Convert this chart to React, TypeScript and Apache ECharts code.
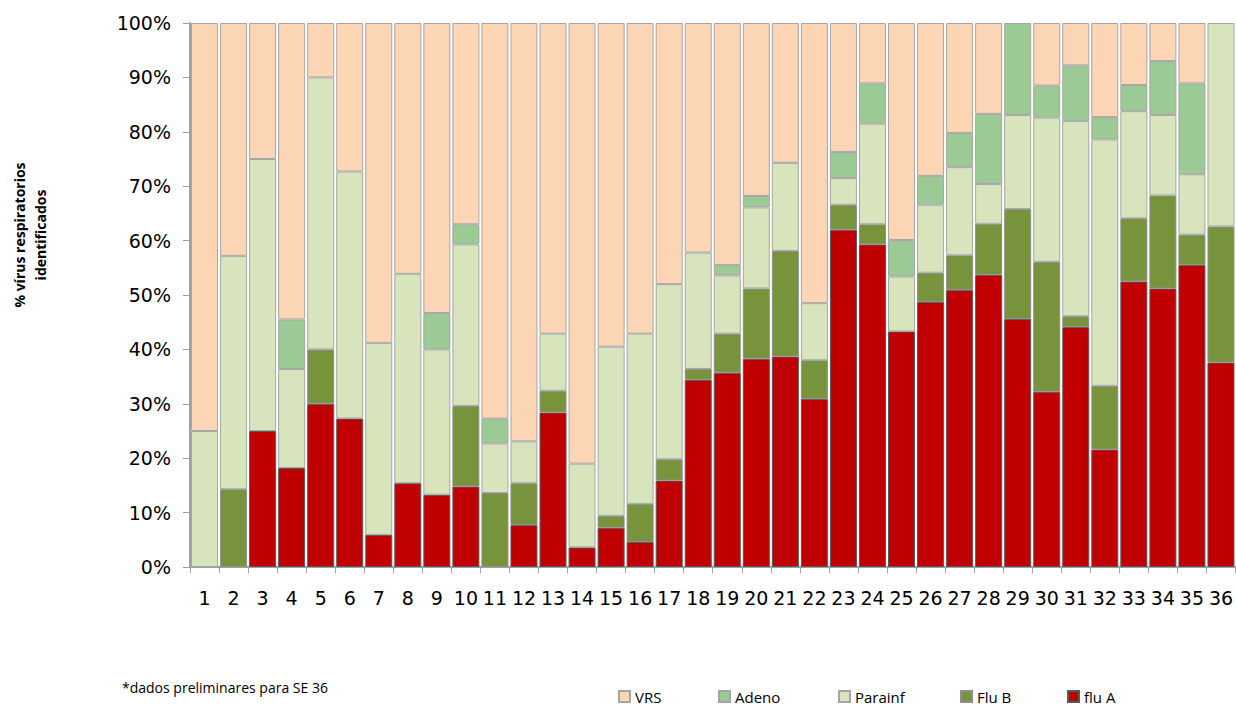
import React, { useEffect, useRef } from "react";
import * as echarts from "echarts";

const weeks = [
  "1", "2", "3", "4", "5", "6", "7", "8", "9", "10", "11", "12",
  "13", "14", "15", "16", "17", "18", "19", "20", "21", "22", "23", "24",
  "25", "26", "27", "28", "29", "30", "31", "32", "33", "34", "35", "36",
];

// percentage share of each virus per epidemiological week (segments, sum ~100)
const fluA = [
  0, 0, 25, 18.2, 30, 27.3, 5.9, 15.4, 13.3, 14.8, 0, 7.7,
  28.4, 3.6, 7.2, 4.6, 15.9, 34.4, 35.7, 38.3, 38.7, 30.9, 62.0, 59.3,
  43.3, 48.7, 50.9, 53.7, 45.6, 32.2, 44.1, 21.6, 52.5, 51.2, 55.5, 37.6,
];
const fluB = [
  0, 14.3, 0, 0, 10, 0, 0, 0, 0, 14.8, 13.6, 7.7,
  4.0, 0, 2.2, 7.0, 3.9, 2.0, 7.2, 12.9, 19.4, 7.1, 4.6, 3.7,
  0, 5.4, 6.4, 9.4, 20.2, 23.9, 2.0, 11.7, 11.6, 17.1, 5.6, 25.0,
];
const parainf = [
  25, 42.9, 50, 18.2, 50, 45.4, 35.3, 38.5, 26.7, 29.7, 9.1, 7.7,
  10.5, 15.4, 31.1, 31.3, 32.2, 21.4, 10.7, 14.9, 16.2, 10.5, 4.9, 18.5,
  10.1, 12.5, 16.2, 7.3, 17.3, 26.5, 35.9, 45.3, 19.7, 14.8, 11.1, 37.4,
];
const adeno = [
  0, 0, 0, 9.1, 0, 0, 0, 0, 6.7, 3.7, 4.6, 0,
  0, 0, 0, 0, 0, 0, 1.9, 2.1, 0, 0, 4.8, 7.4,
  6.7, 5.3, 6.3, 12.9, 16.9, 5.9, 10.2, 4.1, 4.8, 9.9, 16.7, 0,
];
const vrs = [
  75, 42.8, 25, 54.5, 10, 27.3, 58.8, 46.1, 53.3, 37.0, 72.7, 76.9,
  57.1, 81.0, 59.5, 57.1, 48.0, 42.2, 44.5, 31.8, 25.7, 51.5, 23.7, 11.1,
  39.9, 28.1, 20.2, 16.7, 0, 11.5, 7.8, 17.3, 11.4, 7.0, 11.1, 0,
];

const seriesNames = ["flu A", "Flu B", "Parainf", "Adeno", "VRS"];
const seriesValues = [fluA, fluB, parainf, adeno, vrs];
const seriesColors = ["#C00000", "#77933C", "#D8E4BC", "#9BCA94", "#FCD5B5"];
const seriesBorders = ["#5a5a5a", "#8f8f8f", "#a6a6a6", "#a6a6a6", "#a6a6a6"];

const legendOrder = ["VRS", "Adeno", "Parainf", "Flu B", "flu A"];
const legendLeft = [618, 718, 838, 960, 1067];

const yTitle = "% vírus respiratorios\nidentificados";
const footnote = "*dados preliminares para SE 36";

export default function App() {
  const ref = useRef<HTMLDivElement>(null);

  useEffect(() => {
    if (!ref.current) return;
    const chart = echarts.init(ref.current, null, { renderer: "svg" });
    const option = {
      animation: false,
      backgroundColor: "#ffffff",
      grid: { left: 190, top: 23, width: 1050, height: 544, containLabel: false },
      xAxis: {
        type: "category",
        data: weeks,
        axisLine: { show: true, lineStyle: { color: "#a0a0a0", width: 2 } },
        axisTick: {
          show: true,
          interval: 0,
          alignWithLabel: false,
          length: 6,
          lineStyle: { color: "#a0a0a0", width: 1 },
        },
        axisLabel: {
          interval: 0,
          margin: 21,
          fontSize: 19,
          fontFamily: "DejaVu Sans",
          color: "#000",
        },
        splitLine: { show: false },
      },
      yAxis: {
        type: "value",
        min: 0,
        max: 100,
        interval: 10,
        axisLine: { show: true, lineStyle: { color: "#a0a0a0", width: 2 } },
        axisTick: { show: true, length: 7, lineStyle: { color: "#a0a0a0", width: 1 } },
        axisLabel: {
          formatter: "{value}%",
          margin: 19,
          fontSize: 19,
          fontFamily: "DejaVu Sans",
          color: "#000",
        },
        splitLine: { show: false },
      },
      legend: legendOrder.map((name, i) => ({
        data: [name],
        left: legendLeft[i],
        top: 689,
        itemWidth: 11,
        itemHeight: 11,
        itemGap: 0,
        padding: 0,
        icon: "rect",
        selectedMode: false,
        textStyle: { fontSize: 15, fontFamily: "Open Sans", color: "#000" },
      })),
      graphic: [
        {
          type: "text",
          x: 30,
          y: 235,
          rotation: Math.PI / 2,
          style: {
            text: yTitle,
            font: "bold 14px 'Open Sans'",
            fill: "#000",
            textAlign: "center",
            textVerticalAlign: "middle",
            lineHeight: 21,
          },
        },
        {
          type: "text",
          x: 122,
          y: 687,
          style: {
            text: footnote,
            font: "14px 'Open Sans'",
            fill: "#000",
            textAlign: "left",
            textVerticalAlign: "middle",
          },
        },
      ],
      series: seriesNames.map((name, i) => ({
        name,
        type: "bar",
        stack: "total",
        barCategoryGap: "7%",
        data: seriesValues[i].map((v) => (v === 0 ? null : v)),
        itemStyle: {
          color: seriesColors[i],
          borderColor: seriesBorders[i],
          borderWidth: 1,
        },
      })),
    };
    chart.setOption(option);
    return () => chart.dispose();
  }, []);

  return (
    <div
      ref={ref}
      style={{ position: "absolute", left: 0, top: 0, width: 1236, height: 707, background: "#fff" }}
    />
  );
}
